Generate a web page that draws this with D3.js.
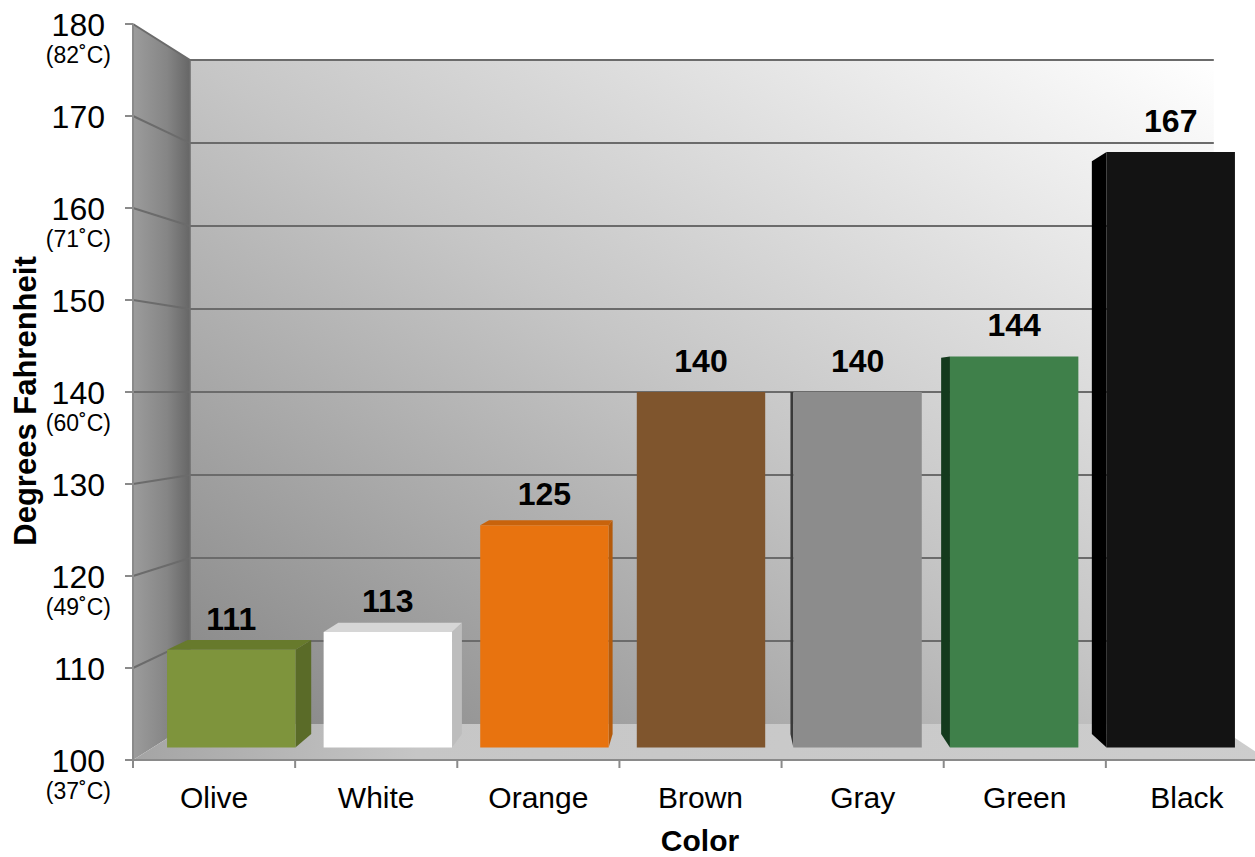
<!DOCTYPE html>
<html>
<head>
<meta charset="utf-8">
<script src="https://cdn.jsdelivr.net/npm/d3@7"></script>
<style>
  body { margin: 0; background: #fff; }
  svg text { font-family: "Liberation Sans", Arial, sans-serif; fill: #000; }
</style>
</head>
<body>
<div id="chart-container"><svg></svg></div>
<script>
// data
const categories = ['Olive', 'White', 'Orange', 'Brown', 'Gray', 'Green', 'Black'];
const temps = [111, 113, 125, 140, 140, 144, 167];
const frontColors = ['#7e943c', '#ffffff', '#e8730f', '#7f552d', '#8c8c8c', '#3f804a', '#131313'];
const sideColors = ['#5a6b28', '#bdbdbd', '#b55a0a', '#5e3e1f', '#3a3a3a', '#143a1d', '#000000'];
const topColors = ['#677a2c', '#d6d6d6', '#c8630c', '#6b4624', '#777777', '#2f6a38', '#0a0a0a'];
const yTicks = [100, 110, 120, 130, 140, 150, 160, 170, 180];
const celsius = { 180: '(82˚C)', 160: '(71˚C)', 140: '(60˚C)', 120: '(49˚C)', 100: '(37˚C)' };

const svgWidth = 1255;
const svgHeight = 857;

const svg = d3.select("#chart-container svg")
    .attr("width", svgWidth)
    .attr("height", svgHeight);

// front plane scales
const x = d3.scaleBand()
    .domain(categories)
    .range([133, 1268])
    .padding(0);

const y = d3.scaleLinear()
    .domain([100, 180])
    .range([760, 24]);

// simple perspective: everything shrinks toward a vanishing point as depth goes 0 -> 1
const vp = { x: 715, y: y(140) };
const shrink = d => 1 - 0.098 * d;
const proj = (px, v, d) => [vp.x + (px - vp.x) * shrink(d), vp.y + (y(v) - vp.y) * shrink(d)];

const barFront = 0.35, barBack = 0.72;
const barHalf = x.bandwidth() * 0.41;

const defs = svg.append("defs");
const wallGrad = defs.append("linearGradient").attr("id", "wall")
    .attr("x1", 0).attr("y1", 1).attr("x2", 1).attr("y2", 0);
wallGrad.append("stop").attr("offset", 0).attr("stop-color", "#858585");
wallGrad.append("stop").attr("offset", 0.5).attr("stop-color", "#c6c6c6");
wallGrad.append("stop").attr("offset", 1).attr("stop-color", "#ffffff");

const sideGrad = defs.append("linearGradient").attr("id", "side")
    .attr("x1", 0).attr("y1", 0).attr("x2", 1).attr("y2", 0);
sideGrad.append("stop").attr("offset", 0).attr("stop-color", "#9c9c9c");
sideGrad.append("stop").attr("offset", 0.6).attr("stop-color", "#858585");
sideGrad.append("stop").attr("offset", 1).attr("stop-color", "#666666");

const floorGrad = defs.append("linearGradient").attr("id", "floor")
    .attr("x1", 0).attr("y1", 0).attr("x2", 1).attr("y2", 0);
floorGrad.append("stop").attr("offset", 0).attr("stop-color", "#a4a4a4");
floorGrad.append("stop").attr("offset", 0.25).attr("stop-color", "#c6c6c6");
floorGrad.append("stop").attr("offset", 1).attr("stop-color", "#cdcdcd");

const xL = x.range()[0], xR = x.range()[1];
const poly = pts => pts.map(p => p.join(",")).join(" ");

// back wall
svg.append("polygon")
    .attr("points", poly([proj(xL, 180, 1), proj(xR, 180, 1), proj(xR, 100, 1), proj(xL, 100, 1)]))
    .attr("fill", "url(#wall)");

// side wall
svg.append("polygon")
    .attr("points", poly([proj(xL, 180, 0), proj(xL, 180, 1), proj(xL, 100, 1), proj(xL, 100, 0)]))
    .attr("fill", "url(#side)");

// floor
svg.append("polygon")
    .attr("points", poly([proj(xL, 100, 0), proj(xR, 100, 0), proj(xR, 100, 1), proj(xL, 100, 1)]))
    .attr("fill", "url(#floor)");

// gridlines on back wall and side wall
const grid = svg.append("g").attr("stroke", "#6b6b6b").attr("stroke-width", 2).attr("fill", "none");
yTicks.filter(t => t > 100).forEach(t => {
    grid.append("polyline")
        .attr("points", poly([proj(xL, t, 0), proj(xL, t, 1), proj(xR, t, 1)]));
});
grid.append("line")
    .attr("x1", proj(xL, 100, 1)[0]).attr("y1", proj(xL, 180, 1)[1])
    .attr("x2", proj(xL, 100, 1)[0]).attr("y2", proj(xL, 100, 1)[1])
    .attr("stroke", "#707070").attr("stroke-width", 1.5);

// value labels (drawn under the bars, like the original)
svg.append("g").selectAll("text")
    .data(temps)
    .enter()
    .append("text")
    .attr("x", (d, i) => proj(x(categories[i]) + x.bandwidth() / 2, d, barFront)[0])
    .attr("y", (d, i) => proj(0, d, barFront)[1] - 20)
    .attr("text-anchor", "middle")
    .attr("font-size", 32)
    .attr("font-weight", "bold")
    .text(d => d);

// bars
const bars = svg.append("g");
temps.forEach((v, i) => {
    const cx = x(categories[i]) + x.bandwidth() / 2;
    const l = cx - barHalf, r = cx + barHalf;
    const fTL = proj(l, v, barFront), fTR = proj(r, v, barFront);
    const fBL = proj(l, 100, barFront), fBR = proj(r, 100, barFront);
    const bTL = proj(l, v, barBack), bTR = proj(r, v, barBack);
    const bBL = proj(l, 100, barBack), bBR = proj(r, 100, barBack);
    if (fTR[0] < vp.x) {
        bars.append("polygon").attr("points", poly([fTR, bTR, bBR, fBR])).attr("fill", sideColors[i]);
    }
    if (fTL[0] > vp.x) {
        bars.append("polygon").attr("points", poly([fTL, bTL, bBL, fBL])).attr("fill", sideColors[i]);
    }
    if (fTL[1] > vp.y + 0.5) {
        bars.append("polygon").attr("points", poly([fTL, fTR, bTR, bTL])).attr("fill", topColors[i]);
    }
    bars.append("polygon").attr("points", poly([fTL, fTR, fBR, fBL])).attr("fill", frontColors[i]);
});

// y axis
const yAxis = svg.append("g");
yAxis.append("line")
    .attr("x1", xL).attr("x2", xL).attr("y1", y(180)).attr("y2", y(100))
    .attr("stroke", "#8a8a8a").attr("stroke-width", 2);
yTicks.forEach(t => {
    yAxis.append("line")
        .attr("x1", xL - 8).attr("x2", xL).attr("y1", y(t)).attr("y2", y(t))
        .attr("stroke", "#8a8a8a").attr("stroke-width", 2);
    yAxis.append("text")
        .attr("x", 105).attr("y", y(t)).attr("dy", "0.36em")
        .attr("text-anchor", "end").attr("font-size", 32)
        .text(t);
    if (celsius[t]) {
        yAxis.append("text")
            .attr("x", 111).attr("y", y(t) + 39)
            .attr("text-anchor", "end").attr("font-size", 23)
            .text(celsius[t]);
    }
});

// x axis
const xAxis = svg.append("g");
xAxis.append("line")
    .attr("x1", xL).attr("x2", svgWidth).attr("y1", y(100)).attr("y2", y(100))
    .attr("stroke", "#8a8a8a").attr("stroke-width", 2);
categories.concat([null]).forEach((c, i) => {
    const px = c ? x(c) : xR;
    xAxis.append("line")
        .attr("x1", px).attr("x2", px).attr("y1", y(100)).attr("y2", y(100) + 8)
        .attr("stroke", "#8a8a8a").attr("stroke-width", 2);
});
xAxis.selectAll("text.cat")
    .data(categories)
    .enter()
    .append("text")
    .attr("class", "cat")
    .attr("x", d => x(d) + x.bandwidth() / 2)
    .attr("y", 808)
    .attr("text-anchor", "middle")
    .attr("font-size", 30)
    .text(d => d);

// axis titles
svg.append("text")
    .attr("x", 700).attr("y", 851)
    .attr("text-anchor", "middle")
    .attr("font-size", 30).attr("font-weight", "bold")
    .text("Color");

svg.append("text")
    .attr("transform", "translate(36, 401) rotate(-90)")
    .attr("text-anchor", "middle")
    .attr("font-size", 31).attr("font-weight", "bold")
    .text("Degrees Fahrenheit");
</script>
</body>
</html>
